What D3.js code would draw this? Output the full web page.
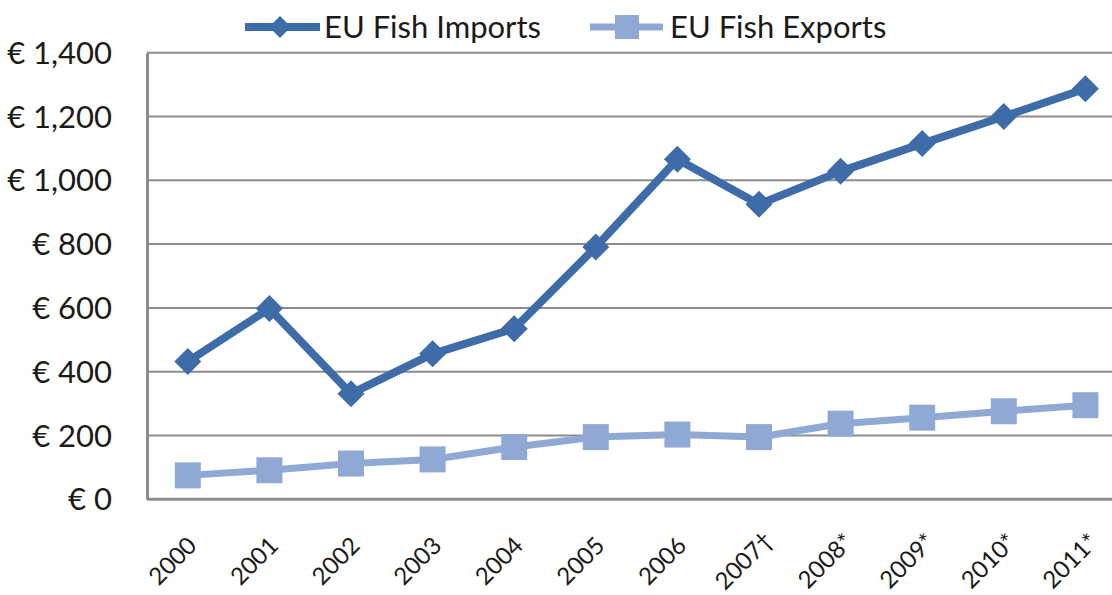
<!DOCTYPE html>
<html>
<head>
<meta charset="utf-8">
<script src="https://cdn.jsdelivr.net/npm/d3@7"></script>
<style>
  html, body { margin: 0; padding: 0; background: #ffffff; }
  svg { display: block; }
  text { font-family: Lato, "Open Sans", sans-serif; fill: #1a1a1a; }
</style>
</head>
<body>
<svg id="chart" width="1112" height="595"></svg>
<script>
// Years shown along the horizontal axis
const years = ["2000", "2001", "2002", "2003", "2004", "2005", "2006", "2007\u2020", "2008*", "2009*", "2010*", "2011*"];
// Values in € millions
const imports = [432, 598, 331, 456, 535, 791, 1066, 925, 1028, 1115, 1200, 1287];
const exports = [75, 91, 112, 125, 164, 195, 203, 195, 237, 256, 276, 295];
// Value axis ticks
const yTicks = [0, 200, 400, 600, 800, 1000, 1200, 1400];

const seriesNames = ["EU Fish Imports", "EU Fish Exports"];
const importColor = "#3e6ca8";
const exportColor = "#90a9d4";
const gridColor = "#8c8c8c";

const svg = d3.select("#chart");

const plot = { left: 147, top: 52.7, bottom: 499.3, step: 81.6 };
const x = d3.scaleBand()
  .domain(years)
  .range([plot.left, plot.left + plot.step * years.length]);
const y = d3.scaleLinear()
  .domain([0, 1400])
  .range([plot.bottom, plot.top]);
const cx = d => x(d) + x.bandwidth() / 2;

// Horizontal gridlines
svg.append("g")
  .selectAll("line")
  .data(yTicks.filter(t => t > 0))
  .join("line")
  .attr("x1", plot.left)
  .attr("x2", 1112)
  .attr("y1", d => y(d))
  .attr("y2", d => y(d))
  .attr("stroke", gridColor)
  .attr("stroke-width", 2);

// Value axis: line plus "€" labels
const yAxis = d3.axisLeft(y)
  .tickValues(yTicks)
  .tickSize(0)
  .tickPadding(35)
  .tickFormat(d => "\u20AC " + d3.format(",")(d));
const yg = svg.append("g")
  .attr("transform", `translate(${plot.left},0)`)
  .call(yAxis);
yg.select(".domain").attr("stroke", gridColor).attr("stroke-width", 3);
yg.selectAll("text")
  .attr("font-family", "Lato, sans-serif")
  .attr("font-size", 31)
  .attr("fill", "#1a1a1a")
  .attr("dy", "0.34em");

// Category axis baseline
const xAxis = d3.axisBottom(x).tickSize(0).tickFormat("");
const xg = svg.append("g")
  .attr("transform", `translate(0,${plot.bottom})`)
  .call(xAxis);
xg.select(".domain")
  .attr("d", `M${plot.left},0H1112`)
  .attr("stroke", gridColor)
  .attr("stroke-width", 3);

// Rotated year labels
svg.append("g")
  .selectAll("text")
  .data(years)
  .join("text")
  .attr("transform", d => `translate(${cx(d) - 16},${560}) rotate(-45)`)
  .attr("text-anchor", "middle")
  .attr("dominant-baseline", "central")
  .attr("font-size", 24)
  .text(d => d);

// Lines
const line = d3.line()
  .x((d, i) => cx(years[i]))
  .y(d => y(d));

svg.append("path")
  .datum(exports)
  .attr("d", line)
  .attr("fill", "none")
  .attr("stroke", exportColor)
  .attr("stroke-width", 7)
  .attr("stroke-linejoin", "round");

svg.append("path")
  .datum(imports)
  .attr("d", line)
  .attr("fill", "none")
  .attr("stroke", importColor)
  .attr("stroke-width", 8)
  .attr("stroke-linejoin", "round");

// Markers
const sq = 26;
svg.append("g")
  .selectAll("rect")
  .data(exports)
  .join("rect")
  .attr("x", (d, i) => cx(years[i]) - sq / 2)
  .attr("y", d => y(d) - sq / 2)
  .attr("width", sq)
  .attr("height", sq)
  .attr("fill", exportColor);

const dm = 13.5;
const diamond = (px, py, r) => `M${px},${py - r}L${px + r},${py}L${px},${py + r}L${px - r},${py}Z`;
svg.append("g")
  .selectAll("path")
  .data(imports)
  .join("path")
  .attr("d", (d, i) => diamond(cx(years[i]), y(d), dm))
  .attr("fill", importColor);

// Legend
const legend = svg.append("g");
legend.append("line")
  .attr("x1", 245).attr("x2", 320).attr("y1", 27).attr("y2", 27)
  .attr("stroke", importColor).attr("stroke-width", 8);
legend.append("path")
  .attr("d", diamond(280, 27, 11))
  .attr("fill", importColor);
legend.append("text")
  .attr("x", 324).attr("y", 38)
  .attr("font-size", 31)
  .text(seriesNames[0]);

legend.append("line")
  .attr("x1", 590).attr("x2", 663).attr("y1", 27).attr("y2", 27)
  .attr("stroke", exportColor).attr("stroke-width", 7);
legend.append("rect")
  .attr("x", 615).attr("y", 15).attr("width", 24).attr("height", 24)
  .attr("fill", exportColor);
legend.append("text")
  .attr("x", 670).attr("y", 38)
  .attr("font-size", 31)
  .text(seriesNames[1]);
</script>
</body>
</html>
